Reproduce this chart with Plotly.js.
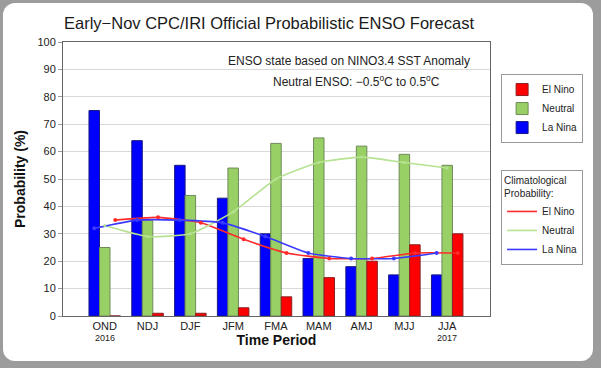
<!DOCTYPE html>
<html>
<head>
<meta charset="utf-8">
<script src="https://cdn.plot.ly/plotly-3.0.1.min.js"></script>
<style>
  html, body { margin: 0; padding: 0; background: #ffffff; }
  #frame { position: absolute; left: 0; top: 0; width: 601px; height: 368px; background: #9c9c9c; }
  #inner { position: absolute; left: 3px; top: 3px; width: 590px; height: 358px; background: #ffffff; border-radius: 12px; }
  #chart { position: absolute; left: 0; top: 0; width: 601px; height: 368px; }
</style>
</head>
<body>
<div id="frame"><div id="inner"></div></div>
<div id="chart"></div>
<script>
// ---- data ----
const periods = ['OND', 'NDJ', 'DJF', 'JFM', 'FMA', 'MAM', 'AMJ', 'MJJ', 'JJA'];
const laNina  = [75, 64, 55, 43, 30, 21, 18, 15, 15];
const neutral = [25, 35, 44, 54, 63, 65, 62, 59, 55];
const elNino  = [0, 1, 1, 3, 7, 14, 20, 26, 30];
const climElNino  = [35, 36, 34, 28, 23, 21, 21, 23, 23];
const climNeutral = [33, 29, 30, 38, 50, 56, 58, 56, 54];
const climLaNina  = [32, 35, 35, 34, 29, 23, 21, 21, 23];
const yearLabels = [{idx: 0, text: '2016'}, {idx: 8, text: '2017'}];

const FONT = 'Liberation Sans, Arial, Helvetica, sans-serif';
const idx = periods.map((_, i) => i);
const bargap = 0.264;
const w = (1 - bargap) / 3;

const clim = [
  {name: 'El Nino', y: climElNino, x: idx.map(i => i + w), color: '#ff2a2a', ms: 4},
  {name: 'Neutral', y: climNeutral, x: idx, color: '#b6e291', ms: 3},
  {name: 'La Nina', y: climLaNina, x: idx.map(i => i - w), color: '#3a3aff', ms: 4}
];

const traces = [
  {type: 'bar', name: 'La Nina', x: idx, y: laNina, legend: 'legend',
   marker: {color: '#0000ff', line: {color: '#1a1a80', width: 1}}},
  {type: 'bar', name: 'Neutral', x: idx, y: neutral, legend: 'legend',
   marker: {color: '#99d066', line: {color: '#6f8a5a', width: 1}}},
  {type: 'bar', name: 'El Nino', x: idx, y: elNino, legend: 'legend',
   marker: {color: '#ff0000', line: {color: '#8a2020', width: 1}}}
];
clim.forEach(c => traces.push({
  type: 'scatter', mode: 'lines', name: c.name, legend: 'legend2', x: c.x, y: c.y,
  line: {color: c.color, width: 1.6, shape: 'spline', smoothing: 0.5}
}));
clim.forEach(c => traces.push({
  type: 'scatter', mode: 'markers', name: c.name, showlegend: false, x: c.x, y: c.y,
  marker: {size: c.ms, color: c.color}
}));

const annotations = yearLabels.map(d => ({
  x: d.idx, xref: 'x', y: -0.08, yref: 'paper', text: d.text, showarrow: false,
  xanchor: 'center', yanchor: 'middle', font: {family: FONT, size: 9, color: '#222'}
}));
annotations.push({
  x: 0.67, xref: 'paper', y: 0.93, yref: 'paper', xanchor: 'center', yanchor: 'middle',
  text: 'ENSO state based on NINO3.4 SST Anomaly', showarrow: false,
  font: {family: FONT, size: 12, color: '#222'}
});
annotations.push({
  x: 0.688, xref: 'paper', y: 0.858, yref: 'paper', xanchor: 'center', yanchor: 'middle',
  text: 'Neutral ENSO: \u22120.5<sup>o</sup>C to 0.5<sup>o</sup>C', showarrow: false,
  font: {family: FONT, size: 12, color: '#222'}
});

const layout = {
  width: 601, height: 368,
  margin: {l: 63, r: 111, t: 42, b: 52},
  paper_bgcolor: 'rgba(0,0,0,0)',
  plot_bgcolor: '#ffffff',
  font: {family: FONT, color: '#222'},
  title: {text: 'Early\u2212Nov CPC/IRI Official Probabilistic ENSO Forecast',
          x: 269 / 601, xref: 'container', xanchor: 'center',
          y: 1 - 23 / 368, yref: 'container', yanchor: 'middle',
          font: {family: FONT, size: 16.5, color: '#1a1a1a'}},
  barmode: 'group', bargap: bargap, bargroupgap: 0,
  xaxis: {range: [-0.975, 9.0], tickvals: idx, ticktext: periods, ticks: '',
          showgrid: false, zeroline: false, showline: true, mirror: true,
          linecolor: '#666', linewidth: 1, tickfont: {size: 11, color: '#222'},
          title: {text: '<b>Time Period</b>', font: {size: 14, color: '#111'}, standoff: 2}},
  yaxis: {range: [0, 100], dtick: 10, ticks: 'outside', ticklen: 4, tickcolor: '#999',
          gridcolor: '#d9d9d9', zeroline: false, showline: true, mirror: true,
          linecolor: '#666', linewidth: 1, tickfont: {size: 11, color: '#222'},
          title: {text: '<b>Probability (%)</b>', font: {size: 14, color: '#111'}, standoff: 8}},
  legend: {x: 1.026, xanchor: 'left', y: 0.883, yanchor: 'top', traceorder: 'reversed',
           bgcolor: '#ffffff', bordercolor: '#999', borderwidth: 1,
           font: {size: 10, color: '#222'}, itemwidth: 30},
  legend2: {x: 1.026, xanchor: 'left', y: 0.533, yanchor: 'top', traceorder: 'normal',
            bgcolor: '#ffffff', bordercolor: '#999', borderwidth: 1,
            title: {text: 'Climatological<br>Probability:', font: {size: 10, color: '#222'}},
            font: {size: 10, color: '#222'}, itemwidth: 30},
  annotations: annotations,
  showlegend: true
};

Plotly.newPlot('chart', traces, layout, {displayModeBar: false, staticPlot: true});
</script>
</body>
</html>
